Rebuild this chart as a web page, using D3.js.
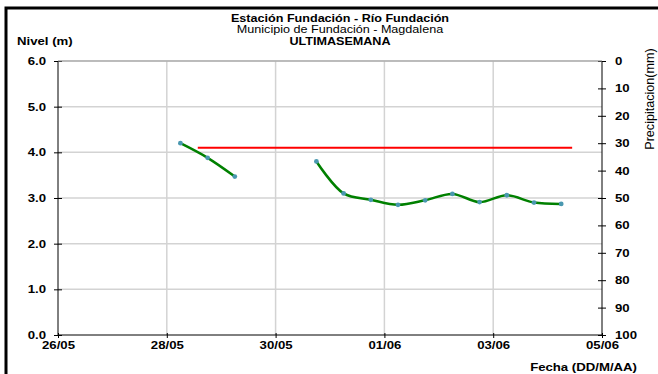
<!DOCTYPE html>
<html><head><meta charset="utf-8">
<script src="https://cdn.jsdelivr.net/npm/d3@7"></script>
<style>body{margin:0;background:#fff}svg{display:block}text{font-family:"Liberation Sans",Arial,sans-serif}</style>
</head><body><svg id="c" width="658" height="374"></svg>
<script>
const titleLines = ["Estación Fundación - Río Fundación", "Municipio de Fundación - Magdalena", "ULTIMASEMANA"];
const seg1Dates = ["2014-05-28T06:00", "2014-05-28T18:00", "2014-05-29T06:00"];
const seg1Values = [4.20, 3.88, 3.47];
const seg2Dates = ["2014-05-30T18:00", "2014-05-31T06:00", "2014-05-31T18:00", "2014-06-01T06:00", "2014-06-01T18:00", "2014-06-02T06:00", "2014-06-02T18:00", "2014-06-03T06:00", "2014-06-03T18:00", "2014-06-04T06:00"];
const seg2Values = [3.80, 3.10, 2.96, 2.85, 2.95, 3.09, 2.91, 3.06, 2.90, 2.87];
const thresholdDates = ["2014-05-28T13:40", "2014-06-04T10:50"];
const thresholdValue = 4.10;
const xTickDates = ["2014-05-26", "2014-05-28", "2014-05-30", "2014-06-01", "2014-06-03", "2014-06-05"];
const xTickLabels = ["26/05", "28/05", "30/05", "01/06", "03/06", "05/06"];
const yTicks = [0, 1, 2, 3, 4, 5, 6];
const rainTicks = [0, 10, 20, 30, 40, 50, 60, 70, 80, 90, 100];

const SX = 1.2;
function stretch(sel){
  sel.each(function(){
    const t = d3.select(this);
    const ax = +(t.attr("x")||0), ay = +(t.attr("y")||0);
    t.attr("transform", `translate(${ax},${ay}) scale(${SX},1) translate(${-ax},${-ay})`);
  });
}

const parse = d3.timeParse("%Y-%m-%dT%H:%M");
const parseD = d3.timeParse("%Y-%m-%d");
const svg = d3.select("#c");
const L = 58, R = 602, T = 61, B = 335;
const x = d3.scaleTime().domain([parseD(xTickDates[0]), parseD(xTickDates[xTickDates.length-1])]).range([L, R]);
const y = d3.scaleLinear().domain([0, 6]).range([B, T]);
const yr = d3.scaleLinear().domain([0, 100]).range([T, B]);

// frame
svg.append("path").attr("d", `M6,374 L6,8 L658,8`).attr("fill","none").attr("stroke","#000").attr("stroke-width",3);

// grid
const g = svg.append("g");
g.selectAll(".hg").data(yTicks.slice(1)).enter().append("line")
  .attr("x1", L).attr("x2", R).attr("y1", d=>y(d)).attr("y2", d=>y(d))
  .attr("stroke","#d3d3d3").attr("stroke-width",1.5);
g.selectAll(".vg").data(xTickDates.slice(1,-1)).enter().append("line")
  .attr("x1", d=>x(parseD(d))).attr("x2", d=>x(parseD(d))).attr("y1", T).attr("y2", B)
  .attr("stroke","#d3d3d3").attr("stroke-width",1.5);

// axes
const fmt = d3.format(".1f");
const yAxis = d3.axisLeft(y).tickValues(yTicks).tickFormat(fmt).tickSize(4).tickPadding(8);
const ya = svg.append("g").attr("transform",`translate(${L},0)`).call(yAxis);
ya.selectAll(".tick line").attr("x1",4).attr("x2",-4);
const rAxis = d3.axisRight(yr).tickValues(rainTicks).tickSize(4).tickPadding(9);
const ra = svg.append("g").attr("transform",`translate(${R},0)`).call(rAxis);
ra.selectAll(".tick line").attr("x1",-4).attr("x2",4);
const xAxis = d3.axisBottom(x).tickValues(xTickDates.map(parseD)).tickFormat((d,i)=>xTickLabels[i]).tickSize(3).tickPadding(3);
const xa = svg.append("g").attr("transform",`translate(0,${B})`).call(xAxis);
xa.selectAll(".tick line").attr("y1",-2).attr("y2",3);
[ya, ra, xa].forEach(a=>{
  a.select(".domain").remove();
  a.selectAll("text").attr("font-size",11).attr("font-weight","bold").attr("fill","#000").attr("font-family","Liberation Sans, Arial, sans-serif");
  a.selectAll(".tick line").attr("stroke","#000");
  stretch(a.selectAll("text"));
});
svg.append("line").attr("x1",L).attr("x2",L).attr("y1",T).attr("y2",B).attr("stroke","#000");
svg.append("line").attr("x1",R).attr("x2",R).attr("y1",T).attr("y2",B).attr("stroke","#000");
svg.append("line").attr("x1",L).attr("x2",R).attr("y1",B).attr("y2",B).attr("stroke","#000");
svg.append("line").attr("x1",L).attr("x2",R).attr("y1",T).attr("y2",T).attr("stroke","#999").attr("stroke-width",1);

// threshold
svg.append("line").attr("x1", x(parse(thresholdDates[0]))).attr("x2", x(parse(thresholdDates[1])))
  .attr("y1", y(thresholdValue)).attr("y2", y(thresholdValue)).attr("stroke","#ff0000").attr("stroke-width",1.8);

// series
const line = d3.line().x(d=>x(d[0])).y(d=>y(d[1])).curve(d3.curveCatmullRom.alpha(0.5));
[[seg1Dates, seg1Values],[seg2Dates, seg2Values]].forEach(([ds, vs])=>{
  const pts = ds.map((d,i)=>[parse(d), vs[i]]);
  svg.append("path").datum(pts).attr("d", line).attr("fill","none").attr("stroke","#008000").attr("stroke-width",2.5);
  svg.selectAll(null).data(pts).enter().append("circle")
    .attr("cx", d=>x(d[0])).attr("cy", d=>y(d[1])).attr("r",2.4).attr("fill","#4a98b0");
});

// titles
const t1 = svg.append("text").attr("x",340).attr("y",22).attr("text-anchor","middle").attr("font-size",10.5).attr("font-weight","bold").text(titleLines[0]);
const t2 = svg.append("text").attr("x",340).attr("y",33.5).attr("text-anchor","middle").attr("font-size",10.5).text(titleLines[1]);
const t3 = svg.append("text").attr("x",340).attr("y",45.5).attr("text-anchor","middle").attr("font-size",10.5).attr("font-weight","bold").text(titleLines[2]);
const nv = svg.append("text").attr("x",17).attr("y",45).attr("font-size",11).attr("font-weight","bold").text("Nivel (m)");
const fx = svg.append("text").attr("x",637).attr("y",371).attr("text-anchor","end").attr("font-size",11).attr("font-weight","bold").text("Fecha (DD/M/AA)");
[t1,t2,t3,nv,fx].forEach(stretch);
svg.append("text").attr("transform",`translate(654,99) rotate(-90) scale(1.05,1)`).attr("text-anchor","middle").attr("font-size",12).text("Precipitacion(mm)");
</script></body></html>
